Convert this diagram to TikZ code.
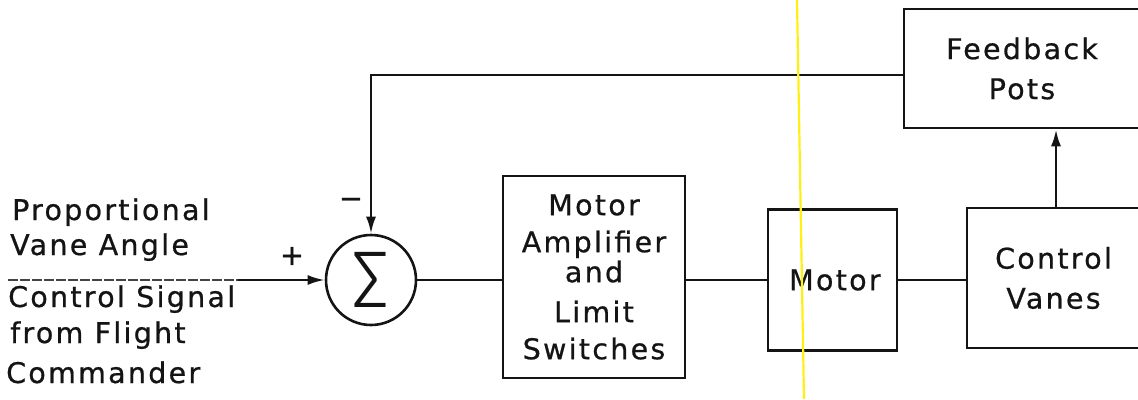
\documentclass[tikz,border=0pt]{standalone}
\usepackage{fontspec}
\setmainfont{DejaVu Sans}[LetterSpace=8, FakeBold=0.7]
\newfontfamily\sigfont{Fira Sans Light}
\usetikzlibrary{arrows.meta}
\definecolor{scanline}{RGB}{255,240,20}
\definecolor{ink}{RGB}{20,20,20}
\tikzset{
  lin/.style={line width=2.6pt, ink},
  arr/.style={lin, -{Latex[length=17pt,width=10pt]}},
  blk/.style={draw, line width=2.6pt, ink, text=ink, align=center, inner sep=0pt,
              font=\fontsize{28.5}{37}\selectfont},
  txt/.style={font=\fontsize{28.5}{37}\selectfont, inner sep=0pt, text=ink},
}
\begin{document}
\begin{tikzpicture}[x=1pt,y=-1pt]
\useasboundingbox (0,0) rectangle (1138,399);
\clip (0,0) rectangle (1138,399);
\fill[white] (0,0) rectangle (1138,399);

% blocks
\node[circle, draw, line width=2.6pt, ink, text=ink, minimum size=90pt, inner sep=0pt] (sum) at (371,280)
  {\sigfont\fontsize{70}{70}\selectfont\scalebox{1.1}[1.15]{Σ}};
\node[blk, minimum width=182pt, minimum height=202pt] (amp) at (594,277)
  {Motor\\Amplifier\\[-7pt]and\\[3pt]Limit\\Switches};
\node[blk, minimum width=129pt, minimum height=141pt] (mot) at (832.5,280) {\,Motor};
\node[blk, minimum width=173pt, minimum height=140pt, font=\fontsize{28.5}{40}\selectfont] (cv) at (1053.5,278) {Control\\Vanes};
\node[blk, minimum width=236pt, minimum height=119pt, font=\fontsize{28.5}{40}\selectfont] (fb) at (1022,68.5) {Feedback\\Pots};

% signs
\node[txt] (plus) at (292,256) {+};
\node[txt] (minus) at (351,203) {−};

% input label
\node[txt, anchor=base west] (l1) at (12,220) {Proportional};
\node[txt, anchor=base west] (l2) at (10,255) {Vane Angle};
\node[txt, anchor=base west] (l3) at (8,307) {Control Signal};
\node[txt, anchor=base west] (l4) at (10,343) {from Flight};
\node[txt, anchor=base west] (l5) at (6,383) {Commander};

% connectors
\coordinate (inL) at (8,280);
\coordinate (inM) at (238,280);
\coordinate (fbin) at (904,75);
\coordinate (vx) at (1056,0);
\draw[lin, ink!80, line width=2pt, dash pattern=on 10pt off 2pt] (inL) -- (inM);
\draw[arr] (inM) -- (sum.west);
\draw[lin] (sum.east) -- (sum.east -| amp.west);
\draw[lin] (mot.west -| amp.east) -- (mot.west);
\draw[lin] (mot.east) -- (mot.east -| cv.west);
\draw[arr] (fb.west |- fbin) -| (sum.north);
\draw[arr] (cv.north -| vx) -- (fb.south -| vx);

% scan artefact
\draw[scanline, line width=2.2pt] (797,0) -- (804,399);
\end{tikzpicture}
\end{document}
